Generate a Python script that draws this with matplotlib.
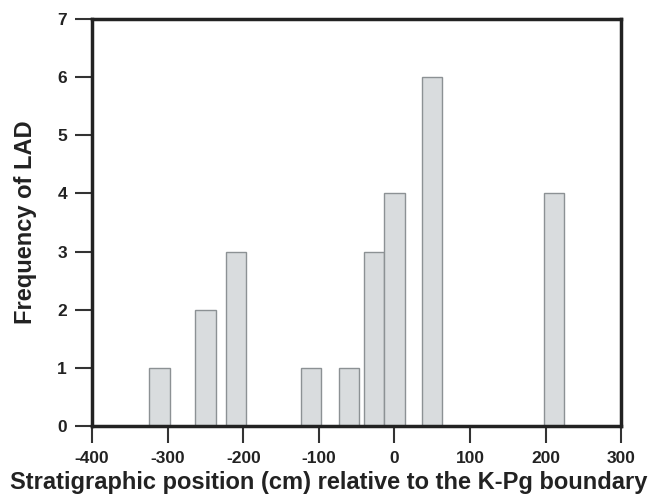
import numpy as np
import matplotlib
matplotlib.use('Agg')
import matplotlib.pyplot as plt

plt.rcParams['font.family'] = ['Liberation Sans', 'DejaVu Sans']
plt.rcParams['font.weight'] = 'bold'
plt.rcParams['axes.unicode_minus'] = False

# bar centres (cm) and LAD counts
positions = [-311, -250, -210, -110, -60, -27, 0, 50, 211]
counts = [1, 2, 3, 1, 1, 3, 4, 6, 4]
bar_width = 27

fig = plt.figure(figsize=(6.58, 4.95), dpi=100)
ax = fig.add_axes([0.14, 0.139, 0.804, 0.823])

ax.bar(positions, counts, width=bar_width, color='#d9dcde', edgecolor='#8c9194', linewidth=1.0, zorder=2)

ax.set_xlim(-400, 300)
ax.set_ylim(0, 7)
ax.set_xticks(np.arange(-400, 301, 100))
ax.set_yticks(np.arange(0, 8, 1))

for s in ax.spines.values():
    s.set_linewidth(2.5)
    s.set_color('#222222')

ax.tick_params(direction='out', length=12, width=1.5, color='#333333', labelsize=12.5, pad=6)
for lab in ax.get_xticklabels() + ax.get_yticklabels():
    lab.set_fontweight('bold')
    lab.set_color('#222222')

ax.set_xlabel('Stratigraphic position (cm) relative to the K-Pg boundary', fontsize=17, fontweight='bold', color='#222222')
ax.xaxis.set_label_coords(0.447, -0.11)
ax.set_ylabel('Frequency of LAD', fontsize=17, fontweight='bold', color='#222222')
ax.yaxis.set_label_coords(-0.104, 0.5)

fig.savefig('out.png', dpi=100)
